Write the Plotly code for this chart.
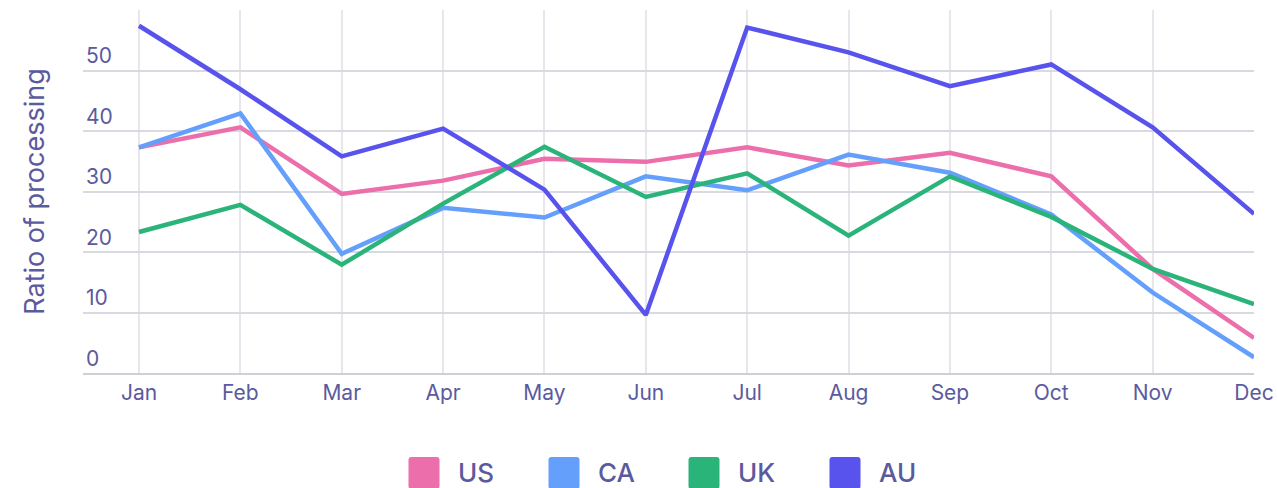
import plotly.graph_objects as go

# Monthly ratio of processing per country
months = ["Jan", "Feb", "Mar", "Apr", "May", "Jun",
          "Jul", "Aug", "Sep", "Oct", "Nov", "Dec"]
us = [37.3, 40.6, 29.6, 31.8, 35.4, 34.9, 37.3, 34.3, 36.4, 32.5, 17.2, 5.8]
ca = [37.3, 42.9, 19.7, 27.3, 25.7, 32.5, 30.2, 36.1, 33.1, 26.2, 13.3, 2.6]
uk = [23.3, 27.8, 17.9, 28.0, 37.4, 29.1, 33.0, 22.7, 32.5, 25.8, 17.2, 11.4]
au = [57.4, 46.9, 35.8, 40.4, 30.3, 9.6, 57.1, 53.0, 47.4, 51.0, 40.6, 26.3]
y_ticks = [0, 10, 20, 30, 40, 50]

series_names = ["US", "CA", "UK", "AU"]
series_values = [us, ca, uk, au]
series_colors = ["#ec6fab", "#64a0fb", "#2ab47a", "#5753ec"]

text_color = "#5b5a9e"
font_family = "Inter, 'Noto Sans', sans-serif"

fig = go.Figure()
for name, vals, color in zip(series_names, series_values, series_colors):
    fig.add_trace(go.Scatter(
        x=list(range(len(months))), y=vals, name=name, mode="lines",
        line=dict(color=color, width=4.5), showlegend=False,
    ))


def rounded_rect(x0, y0, x1, y1, r):
    """SVG path of a rounded rectangle in pixel offsets (y grows upward)."""
    return (f"M {x0 + r},{y0} L {x1 - r},{y0} Q {x1},{y0} {x1},{y0 + r} "
            f"L {x1},{y1 - r} Q {x1},{y1} {x1 - r},{y1} "
            f"L {x0 + r},{y1} Q {x0},{y1} {x0},{y1 - r} "
            f"L {x0},{y0 + r} Q {x0},{y0} {x0 + r},{y0} Z")


# Custom legend: rounded square swatches with labels, centred under the plot
shapes = []
annotations = []
item_offsets = [-260, -120, 20, 161]  # px offsets of each swatch from plot centre
for name, color, off in zip(series_names, series_colors, item_offsets):
    shapes.append(dict(
        type="path", xref="paper", yref="paper",
        xsizemode="pixel", ysizemode="pixel",
        xanchor=0.5, yanchor=0,
        path=rounded_rect(off, -116, off + 31, -84, 3),
        fillcolor=color, line=dict(width=0),
        layer="above",
    ))
    annotations.append(dict(
        xref="paper", yref="paper", x=0.5, y=0,
        xshift=off + 47, yshift=-99,
        text=name, showarrow=False, xanchor="left", yanchor="middle",
        font=dict(size=26, color=text_color, family=font_family, weight=500),
    ))

fig.update_layout(
    width=1277, height=488,
    margin=dict(l=83, r=23, t=10, b=115),
    paper_bgcolor="white", plot_bgcolor="white",
    font=dict(family=font_family, color=text_color, size=21),
    shapes=shapes, annotations=annotations,
    showlegend=False,
    xaxis=dict(
        range=[-0.5525, 11],
        tickmode="array", tickvals=list(range(len(months))), ticktext=months,
        showgrid=True, gridcolor="#e6e6ec", gridwidth=1.5,
        showline=True, linecolor="#cfcfd8", linewidth=2,
        zeroline=False, ticks="", ticklabelstandoff=0,
        tickfont=dict(size=21, color=text_color),
        automargin=False,
        fixedrange=True,
    ),
    yaxis=dict(
        range=[0, 60],
        tickmode="array", tickvals=y_ticks,
        ticklabelposition="inside top",
        showgrid=True, gridcolor="#d9d9e1", gridwidth=1.5,
        zeroline=False, showline=False, ticks="",
        tickfont=dict(size=21, color=text_color),
        title=dict(text="Ratio of processing", standoff=33,
                   font=dict(size=27, color=text_color)),
        automargin=False,
        fixedrange=True,
    ),
)

fig.write_html("out.html")
